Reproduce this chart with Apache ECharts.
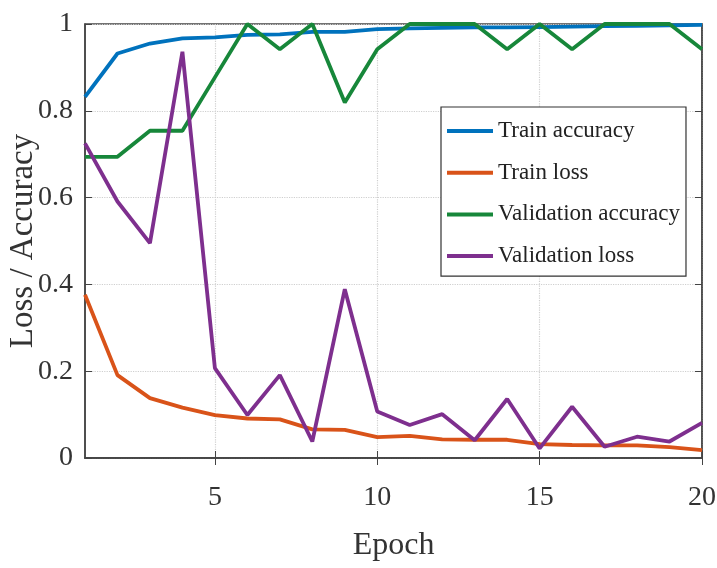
<!DOCTYPE html>
<html>
<head>
<meta charset="utf-8">
<script src="https://cdn.jsdelivr.net/npm/echarts@6/dist/echarts.min.js"></script>
<style>
html,body{margin:0;padding:0;background:#fff;}
#chart{width:717px;height:568px;}
</style>
</head>
<body>
<div id="chart"></div>
<script>
const epochs = ['1','2','3','4','5','6','7','8','9','10','11','12','13','14','15','16','17','18','19','20'];
const shownTicks = ['5','10','15','20'];
const trainAccuracy = [0.832,0.932,0.955,0.967,0.969,0.975,0.976,0.982,0.982,0.988,0.990,0.991,0.992,0.992,0.993,0.994,0.995,0.996,0.997,0.998];
const trainLoss = [0.376,0.191,0.138,0.116,0.099,0.091,0.089,0.066,0.065,0.048,0.051,0.043,0.042,0.042,0.032,0.030,0.029,0.029,0.025,0.018];
const validationAccuracy = [0.694,0.694,0.754,0.754,0.877,1.0,0.942,1.0,0.819,0.942,1.0,1.0,1.0,0.942,1.0,0.942,1.0,1.0,1.0,0.942];
const validationLoss = [0.725,0.591,0.495,0.936,0.207,0.099,0.191,0.038,0.389,0.107,0.076,0.101,0.041,0.136,0.022,0.118,0.026,0.049,0.038,0.081];
const seriesNames = ['Train accuracy','Train loss','Validation accuracy','Validation loss'];
const colors = ['#0072BD','#D95319','#17873A','#7E2F8E'];

const font = 'Liberation Serif';
const showTick = (i, v) => shownTicks.indexOf(String(v)) >= 0 || shownTicks.indexOf(epochs[i]) >= 0;

const chart = echarts.init(document.getElementById('chart'));
const mk = (name, data, color) => ({
  name, type: 'line', data, symbol: 'none', smooth: false,
  lineStyle: { width: 3.8, color }, itemStyle: { color }
});
chart.setOption({
  animation: false,
  backgroundColor: '#fff',
  color: colors,
  grid: { left: 85, right: 15, top: 24, bottom: 110, containLabel: false, outerBoundsMode: 'none',
          show: true, borderColor: '#444', borderWidth: 1.5, backgroundColor: 'transparent' },
  legend: {
    left: 441, top: 107, orient: 'vertical',
    data: seriesNames.map(n => ({ name: n, icon: 'rect' })),
    itemWidth: 46, itemHeight: 4, itemGap: 11.7,
    padding: [9, 6, 5, 6],
    borderColor: '#333', borderWidth: 1.2, backgroundColor: '#fff',
    textStyle: { fontFamily: font, fontSize: 23, lineHeight: 30, color: '#222' }
  },
  xAxis: [{
    type: 'category', data: epochs, boundaryGap: false,
    name: 'Epoch', nameLocation: 'middle', nameGap: 72, nameMoveOverlap: false,
    nameTextStyle: { fontFamily: font, fontSize: 32, color: '#333' },
    axisLine: { show: true, lineStyle: { color: '#444', width: 1.5 } },
    axisTick: { show: true, inside: true, length: 7, interval: showTick, lineStyle: { color: '#444' } },
    axisLabel: { interval: showTick, fontFamily: font, fontSize: 28, color: '#333', margin: 26 },
    splitLine: { show: true, interval: showTick, lineStyle: { color: '#cfcfcf', type: 'dotted', width: 1.2 } }
  }, {
    type: 'category', data: epochs, boundaryGap: false, position: 'top',
    axisLine: { show: true, lineStyle: { color: '#444', width: 1.5 } },
    axisTick: { show: true, inside: true, length: 7, interval: showTick, lineStyle: { color: '#444' } },
    axisLabel: { show: false }, splitLine: { show: false }
  }],
  yAxis: [{
    type: 'value', min: 0, max: 1, interval: 0.2,
    name: 'Loss / Accuracy', nameLocation: 'middle', nameGap: 45, nameMoveOverlap: false,
    nameTextStyle: { fontFamily: font, fontSize: 33, color: '#333' },
    axisLine: { show: true, lineStyle: { color: '#444', width: 1.5 } },
    axisTick: { show: true, inside: true, length: 7, lineStyle: { color: '#444' } },
    axisLabel: { fontFamily: font, fontSize: 28, color: '#333', margin: 12 },
    splitLine: { show: true, lineStyle: { color: '#cfcfcf', type: 'dotted', width: 1.2 } }
  }, {
    type: 'value', min: 0, max: 1, interval: 0.2, position: 'right',
    axisLine: { show: true, lineStyle: { color: '#444', width: 1.5 } },
    axisTick: { show: true, inside: true, length: 7, lineStyle: { color: '#444' } },
    axisLabel: { show: false }, splitLine: { show: false }
  }],
  series: [
    mk(seriesNames[0], trainAccuracy, colors[0]),
    mk(seriesNames[1], trainLoss, colors[1]),
    mk(seriesNames[2], validationAccuracy, colors[2]),
    mk(seriesNames[3], validationLoss, colors[3])
  ]
});
</script>
</body>
</html>
